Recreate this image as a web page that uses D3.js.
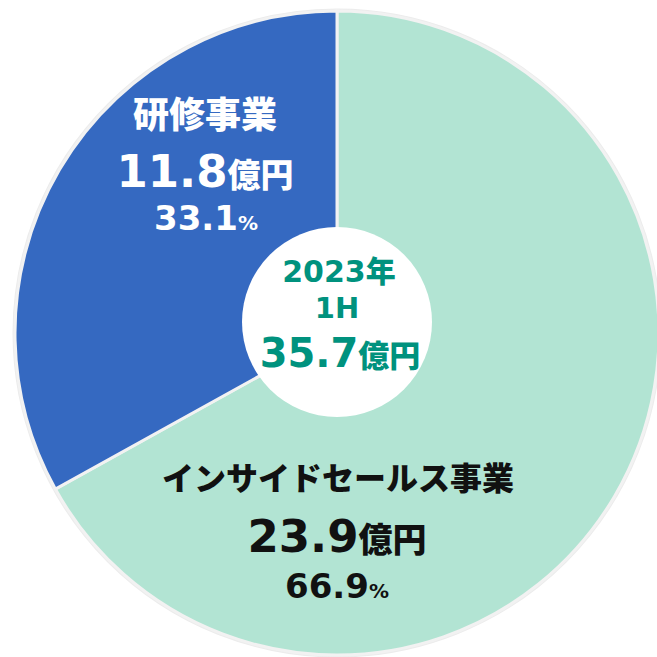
<!DOCTYPE html>
<html>
<head>
<meta charset="utf-8">
<script src="https://cdn.jsdelivr.net/npm/d3@7"></script>
<style>
  html, body { margin: 0; padding: 0; background: #fff; }
  svg text { font-family: "DejaVu Sans", "Noto Sans CJK JP", sans-serif; font-weight: bold; }
  svg .jp { font-family: "Noto Sans CJK JP", sans-serif; font-weight: 900; }
</style>
</head>
<body>
<svg id="chart" width="657" height="657"></svg>
<script>
// segment data (pie order: clockwise from 12 o'clock)
const segments = ["インサイドセールス事業", "研修事業"];
const amounts = [23.9, 11.8];
const shares = ["66.9", "33.1"];
const segColors = ["#b2e4d3", "#3569c1"];
const totalLabel = ["2023", "年", "1H", "35.7"];
const unit = "億円";

const svg = d3.select('#chart');
const cx = 337, cy = 333, radius = 322;

const g = svg.append('g').attr('transform', `translate(${cx},${cy})`);

const pie = d3.pie().sort(null).value(d => d);
const arc = d3.arc().innerRadius(0).outerRadius(radius);

// outer light ring
g.append('circle')
    .attr('r', radius)
    .attr('fill', 'none')
    .attr('stroke', '#ececec')
    .attr('stroke-width', 5);

g.selectAll('.slice')
    .data(pie(amounts))
    .enter()
    .append('path')
    .attr('class', 'slice')
    .attr('d', arc)
    .attr('fill', (d, i) => segColors[i])
    .attr('stroke', '#f2f2f2')
    .attr('stroke-width', 3);

// white centre disc
svg.append('circle')
    .attr('cx', cx)
    .attr('cy', 322)
    .attr('r', 95)
    .attr('fill', '#fff');

// label helper: big number + small unit
function valueLine(sel, x, y, num, numSize, suffix, sufSize, color, jp) {
    const t = sel.append('text')
        .attr('x', x).attr('y', y)
        .attr('text-anchor', 'middle')
        .attr('fill', color);
    t.append('tspan').style('font-size', numSize + 'px').text(num);
    t.append('tspan')
        .attr('class', jp ? 'jp' : null)
        .style('font-size', sufSize + 'px').text(suffix);
    return t;
}

// 研修事業 (white)
svg.append('text')
    .attr('class', 'jp')
    .attr('x', 205).attr('y', 128)
    .attr('text-anchor', 'middle')
    .attr('fill', '#fff')
    .style('font-size', '36px')
    .text(segments[1]);
valueLine(svg, 205, 187, amounts[1].toFixed(1), 45, unit, 33, '#fff', true);
valueLine(svg, 206, 230, shares[1], 34, '%', 20, '#fff', false);

// インサイドセールス事業 (black)
svg.append('text')
    .attr('class', 'jp')
    .attr('x', 338).attr('y', 490)
    .attr('text-anchor', 'middle')
    .attr('fill', '#111')
    .style('font-size', '32px')
    .text(segments[0]);
valueLine(svg, 337, 552, amounts[0].toFixed(1), 45, unit, 34, '#111', true);
valueLine(svg, 337, 598, shares[0], 34, '%', 20, '#111', false);

// centre total
const teal = '#00927e';
const yr = svg.append('text')
    .attr('x', 339).attr('y', 282)
    .attr('text-anchor', 'middle')
    .attr('fill', teal)
    .style('font-size', '30px');
yr.append('tspan').text(totalLabel[0]);
yr.append('tspan').attr('class', 'jp').text(totalLabel[1]);
svg.append('text')
    .attr('x', 337).attr('y', 318)
    .attr('text-anchor', 'middle')
    .attr('fill', teal)
    .style('font-size', '29px')
    .text(totalLabel[2]);
valueLine(svg, 340, 367, totalLabel[3], 40, unit, 31, teal, true);
</script>
</body>
</html>
